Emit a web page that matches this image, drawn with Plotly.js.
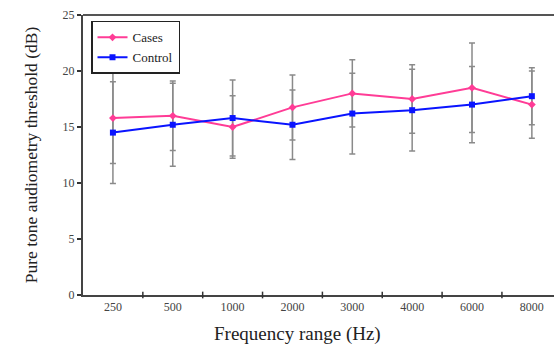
<!DOCTYPE html>
<html>
<head>
<meta charset="utf-8">
<script src="https://cdn.plot.ly/plotly-3.0.1.min.js"></script>
<style>html,body{margin:0;padding:0;background:#fff;}#chart{width:554px;height:347px;}</style>
</head>
<body>
<div id="chart"></div>
<script>
var categories = ["250", "500", "1000", "2000", "3000", "4000", "6000", "8000"];
var casesMean = [15.8, 16.0, 15.0, 16.75, 18.0, 17.5, 18.5, 17.0];
var casesSD = [4.05, 3.1, 2.8, 2.9, 3.0, 3.05, 4.0, 3.0];
var controlMean = [14.5, 15.2, 15.8, 15.2, 16.2, 16.5, 17.0, 17.75];
var controlSD = [4.55, 3.7, 3.4, 3.1, 3.6, 3.65, 3.4, 2.55];
var yTicks = [0, 5, 10, 15, 20, 25];

var serif = "Liberation Serif, Times New Roman, serif";
var errStyle = function(arr){ return {type:'data', array:arr, visible:true, color:'#8a8a8a', thickness:1.5, width:3}; };
var ghost = {color:'rgba(0,0,0,0)', size:1};

var traces = [
  {x:categories, y:casesMean, type:'scatter', mode:'markers', marker:ghost, error_y:errStyle(casesSD), showlegend:false, hoverinfo:'skip'},
  {x:categories, y:controlMean, type:'scatter', mode:'markers', marker:ghost, error_y:errStyle(controlSD), showlegend:false, hoverinfo:'skip'},
  {x:categories, y:casesMean, type:'scatter', mode:'lines+markers', name:'Cases',
   line:{color:'#ff3c96', width:2}, marker:{symbol:'diamond', size:6, color:'#ff3c96'}},
  {x:categories, y:controlMean, type:'scatter', mode:'lines+markers', name:'Control',
   line:{color:'#0a14ff', width:2}, marker:{symbol:'square', size:6, color:'#0a14ff'}}
];

var layout = {
  width:554, height:347,
  margin:{l:83, r:0, t:15, b:52},
  paper_bgcolor:'#fff', plot_bgcolor:'#fff',
  font:{family:serif, color:'#333'},
  xaxis:{
    type:'category', range:[-0.5, 7.37],
    showgrid:false, zeroline:false,
    showline:true, linecolor:'#444', linewidth:2,
    ticks:'', tickfont:{size:12, family:serif, color:'#444'}
  },
  yaxis:{
    range:[0, 25], tickvals:yTicks, ticktext:yTicks.map(String),
    showgrid:false, zeroline:false,
    showline:true, linecolor:'#444', linewidth:2,
    ticks:'outside', ticklen:4, tickwidth:1.5, tickcolor:'#333',
    tickfont:{size:12, family:serif, color:'#444'},
    title:{text:'Pure tone audiometry threshold (dB)', font:{size:17.5, family:serif, color:'#222'}, standoff:20}
  },
  annotations:[
    {text:'Frequency range (Hz)', xref:'paper', yref:'paper', x:0.456, y:-0.139,
     xanchor:'center', yanchor:'middle', showarrow:false,
     font:{size:19, family:serif, color:'#222'}}
  ],
  legend:{
    x:0.017, y:0.979, xanchor:'left', yanchor:'top',
    bgcolor:'#fff', bordercolor:'#222', borderwidth:1.5,
    font:{size:13, family:serif, color:'#222'},
    tracegroupgap:0, itemwidth:30
  },
  shapes:[
    {type:'line', xref:'paper', yref:'paper', x0:0, x1:1, y0:1, y1:1, line:{color:'#555', width:2}}
  ].concat(categories.slice(0, -1).map(function(c, i){
    return {type:'line', xref:'x', yref:'paper', x0:i+0.5, x1:i+0.5, y0:-0.012, y1:0.012, line:{color:'#333', width:1.5}};
  })),
  showlegend:true
};

Plotly.newPlot('chart', traces, layout, {displayModeBar:false, staticPlot:true});
</script>
</body>
</html>
